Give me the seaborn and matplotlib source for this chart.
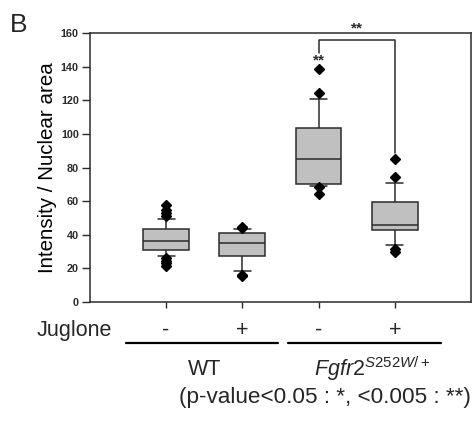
import numpy as np
import pandas as pd
import matplotlib
matplotlib.use("Agg")
import matplotlib.pyplot as plt
import seaborn as sns

# groups in plot order
groups = ["WT -", "WT +", "Fgfr2 -", "Fgfr2 +"]
juglone = ["-", "+", "-", "+"]

# values (whiskers are 10th/90th percentiles)
wt_minus = [21.5, 23.0, 24.5, 26.0, 27.4, 28.5, 29.3, 29.8, 30.2, 30.5,
            30.8, 31.5, 32.3, 33.0, 33.6, 34.2, 34.7, 35.1, 35.5, 35.9,
            36.2, 37.0, 37.8, 38.5, 39.3, 40.0, 40.8, 41.5, 42.2, 42.8,
            43.3, 44.2, 45.1, 46.2, 47.3, 48.3, 49.1, 51.0, 53.0, 55.0, 57.5]
wt_plus = [15.5, 16.0, 18.3, 22.0, 25.0, 27.4, 29.0, 30.5, 32.0, 33.8,
           35.2, 36.3, 37.5, 38.8, 39.8, 40.8, 41.8, 42.6, 43.3, 44.0, 44.3]
fg_minus = [64.2, 68.6, 69.2, 69.5, 69.9, 70.2, 72.0, 75.0, 78.0, 82.0,
            85.1, 88.0, 91.0, 94.0, 98.0, 103.7, 108.0, 113.0, 120.8, 124.2, 138.5]
fg_plus = [29.5, 31.5, 33.6, 36.0, 39.5, 42.7, 43.3, 43.9, 44.5, 45.0,
           45.5, 47.5, 50.0, 53.0, 56.0, 59.4, 62.5, 66.0, 71.0, 74.3, 85.1]

df = pd.concat([
    pd.DataFrame({"group": g, "value": v})
    for g, v in zip(groups, [wt_minus, wt_plus, fg_minus, fg_plus])
])

sns.set_style("ticks")
plt.rcParams["font.family"] = ["Liberation Sans", "DejaVu Sans"]
plt.rcParams["mathtext.fontset"] = "custom"
plt.rcParams["mathtext.it"] = "Liberation Sans:italic"
plt.rcParams["mathtext.rm"] = "Liberation Sans"

ink = "#2b2b2b"
fs = 15.5
fig = plt.figure(figsize=(4.73, 4.21), dpi=100)
ax = fig.add_axes([0.190, 0.283, 0.806, 0.638])

sns.boxplot(data=df, x="group", y="value", order=groups, ax=ax,
            color="#c0c0c0", saturation=1, width=0.6, linecolor=ink,
            linewidth=1.1, whis=(10, 90), capwidths=0.22,
            flierprops=dict(marker="D", markerfacecolor="black",
                            markeredgecolor="black", markersize=4.8))

ax.set_xlim(-1, 4)
ax.set_ylim(0, 160)
ax.set_yticks(np.arange(0, 161, 20))
ax.set_xticks(range(4))
ax.set_xticklabels([])
ax.set_xlabel("")
ax.set_ylabel("Intensity / Nuclear area", fontsize=14.8, color="black", labelpad=3)
ax.tick_params(axis="y", labelsize=7.8, length=6, width=1, colors=ink, pad=2)
for lbl in ax.get_yticklabels():
    lbl.set_fontweight("bold")
ax.tick_params(axis="x", length=4, width=1, colors=ink)
for s in ax.spines.values():
    s.set_visible(True)
    s.set_color(ink)
    s.set_linewidth(1.1)

# significance marks
ax.plot([2, 2, 3, 3], [148, 156, 156, 88.5], color=ink, lw=1.1, clip_on=False)
ax.text(2, 139.5, "**", ha="center", va="bottom", fontsize=11, fontweight="bold", color=ink)
ax.text(2.5, 158.5, "**", ha="center", va="bottom", fontsize=11, fontweight="bold", color=ink)

# labels under the axes
fig.text(0.021, 0.968, "B", fontsize=19, ha="left", va="top")
fig.text(0.078, 0.216, "Juglone", fontsize=fs, ha="left", va="center")
trans = ax.get_xaxis_transform()
for i, j in enumerate(juglone):
    ax.text(i, -0.105, j, transform=trans, ha="center", va="center", fontsize=fs)
ax.plot([-0.53, 1.47], [-0.155, -0.155], transform=trans, color="black", lw=1.6, clip_on=False)
ax.plot([1.6, 3.6], [-0.155, -0.155], transform=trans, color="black", lw=1.6, clip_on=False)
ax.text(0.5, -0.25, "WT", transform=trans, ha="center", va="center", fontsize=fs)
ax.text(2.7, -0.25, r"$\mathit{Fgfr2}^{\mathit{S252W/+}}$", transform=trans,
        ha="center", va="center", fontsize=fs)
fig.text(0.995, 0.057, "(p-value<0.05 : *, <0.005 : **)", fontsize=16.2,
         ha="right", va="center")

fig.savefig("out.png", dpi=100)
